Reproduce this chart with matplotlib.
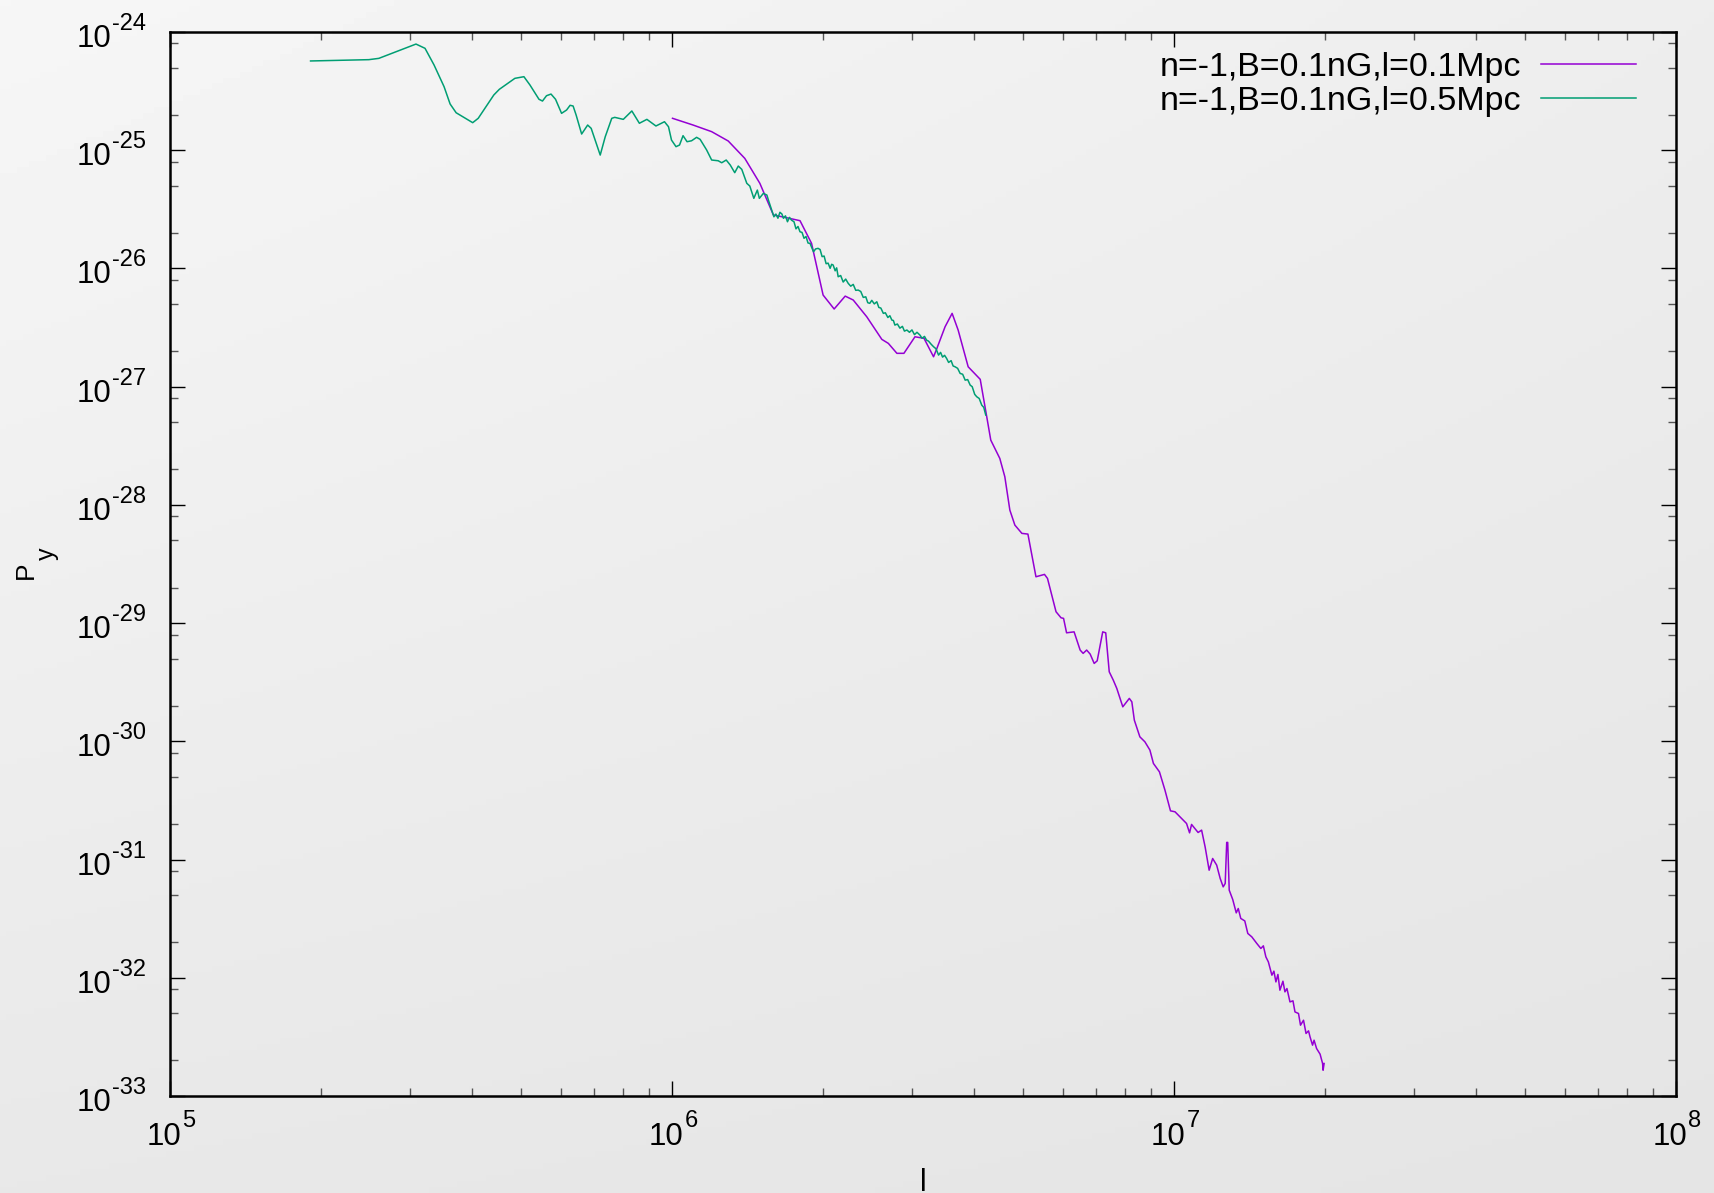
import matplotlib
matplotlib.use("Agg")
import matplotlib.pyplot as plt
import numpy as np
from matplotlib.ticker import FixedLocator, NullFormatter
from matplotlib.transforms import offset_copy

plt.rcParams["font.family"] = ["Liberation Sans", "DejaVu Sans"]

# power spectra, stored as log10(l) and log10(P_y)
# n=-1, B=0.1nG, l=0.1Mpc
log_l_01 = [6.001, 6.042, 6.079, 6.112, 6.145, 6.175, 6.202, 6.225, 6.255, 6.278,
            6.301, 6.323, 6.345, 6.361, 6.388, 6.418, 6.431, 6.448, 6.462, 6.484,
            6.502, 6.521, 6.527, 6.544, 6.558, 6.570, 6.590, 6.614, 6.627, 6.635,
            6.653, 6.663, 6.673, 6.683, 6.697, 6.709, 6.725, 6.742, 6.748, 6.765,
            6.775, 6.780, 6.786, 6.801, 6.813, 6.819, 6.826, 6.833, 6.841, 6.847,
            6.858, 6.864, 6.871, 6.879, 6.886, 6.898, 6.911, 6.916, 6.921, 6.932,
            6.942, 6.952, 6.959, 6.971, 6.982, 6.993, 7.002, 7.025, 7.031, 7.035,
            7.048, 7.055, 7.062, 7.070, 7.077, 7.085, 7.092, 7.098, 7.102, 7.105,
            7.107, 7.110, 7.117, 7.124, 7.128, 7.133, 7.141, 7.147, 7.155, 7.165,
            7.173, 7.178, 7.183, 7.188, 7.195, 7.199, 7.203, 7.207, 7.211, 7.217,
            7.221, 7.225, 7.231, 7.237, 7.241, 7.248, 7.252, 7.258, 7.263, 7.268,
            7.271, 7.276, 7.279, 7.284, 7.291, 7.296, 7.297, 7.299]
log_p_01 = [-24.730, -24.787, -24.843, -24.922, -25.069, -25.280, -25.548, -25.568, -25.596, -25.788,
            -26.225, -26.343, -26.234, -26.267, -26.409, -26.600, -26.634, -26.718, -26.718, -26.578,
            -26.591, -26.747, -26.684, -26.493, -26.380, -26.521, -26.832, -26.938, -27.255, -27.452,
            -27.607, -27.762, -28.044, -28.171, -28.241, -28.247, -28.608, -28.588, -28.622, -28.904,
            -28.955, -28.960, -29.082, -29.074, -29.228, -29.256, -29.228, -29.262, -29.341, -29.319,
            -29.074, -29.082, -29.412, -29.482, -29.552, -29.708, -29.637, -29.666, -29.821, -29.962,
            -30.004, -30.074, -30.187, -30.258, -30.413, -30.588, -30.596, -30.695, -30.774, -30.703,
            -30.771, -30.751, -30.893, -31.090, -30.991, -31.047, -31.160, -31.231, -31.202, -30.855,
            -30.855, -31.259, -31.338, -31.451, -31.414, -31.498, -31.519, -31.625, -31.654, -31.710,
            -31.752, -31.730, -31.823, -31.866, -31.978, -31.944, -32.035, -31.972, -32.105, -32.029,
            -32.119, -32.091, -32.204, -32.195, -32.289, -32.302, -32.401, -32.359, -32.471, -32.449,
            -32.500, -32.570, -32.528, -32.598, -32.646, -32.725, -32.782, -32.725]

# n=-1, B=0.1nG, l=0.5Mpc
log_l_05 = [5.280, 5.396, 5.416, 5.490, 5.508, 5.526, 5.546, 5.558, 5.570, 5.603,
            5.614, 5.645, 5.656, 5.687, 5.705, 5.717, 5.735, 5.742, 5.750, 5.759,
            5.768, 5.780, 5.790, 5.797, 5.803, 5.809, 5.820, 5.832, 5.839, 5.857,
            5.867, 5.880, 5.886, 5.903, 5.920, 5.935, 5.950, 5.968, 5.985, 5.993,
            5.999, 6.008, 6.015, 6.022, 6.030, 6.039, 6.049, 6.056, 6.069, 6.079,
            6.092, 6.099, 6.108, 6.116, 6.125, 6.132, 6.139, 6.149, 6.155, 6.163,
            6.170, 6.174, 6.182, 6.189, 6.192,
            6.203, 6.207, 6.211, 6.215, 6.219, 6.222, 6.226, 6.230, 6.234, 6.238,
            6.243, 6.247, 6.251, 6.255, 6.259, 6.263, 6.267, 6.271, 6.275, 6.278,
            6.282, 6.286, 6.291, 6.295, 6.299, 6.303, 6.307, 6.311, 6.315, 6.318,
            6.321, 6.325, 6.328, 6.331, 6.336, 6.341, 6.346, 6.351, 6.356, 6.361,
            6.366, 6.371, 6.376, 6.381, 6.386, 6.390, 6.394, 6.398, 6.403, 6.408,
            6.412, 6.416, 6.421, 6.425, 6.430, 6.434, 6.438, 6.441, 6.444, 6.449,
            6.454, 6.459, 6.463, 6.468, 6.473, 6.478, 6.483, 6.488, 6.494, 6.498,
            6.503, 6.507, 6.511, 6.516, 6.521, 6.526, 6.531, 6.535, 6.539, 6.543,
            6.547, 6.551, 6.556, 6.560, 6.564, 6.569, 6.574, 6.579, 6.584, 6.589,
            6.594, 6.598, 6.603, 6.607, 6.612, 6.617, 6.621, 6.625]
log_p_05 = [-24.245, -24.234, -24.223, -24.102, -24.138, -24.279, -24.463, -24.609, -24.683, -24.767,
            -24.730, -24.533, -24.485, -24.392, -24.378, -24.448, -24.569, -24.584, -24.539, -24.525,
            -24.569, -24.688, -24.660, -24.620, -24.626, -24.702, -24.863, -24.787, -24.815, -25.041,
            -24.886, -24.730, -24.722, -24.739, -24.668, -24.772, -24.739, -24.795, -24.759, -24.801,
            -24.914, -24.970, -24.956, -24.877, -24.928, -24.920, -24.891, -24.908, -24.998, -25.083,
            -25.089, -25.106, -25.083, -25.125, -25.190, -25.134, -25.162, -25.280, -25.303, -25.407,
            -25.337, -25.407, -25.365, -25.379, -25.421,
            -25.563, -25.540, -25.575, -25.525, -25.540, -25.576, -25.555, -25.605, -25.568, -25.591,
            -25.605, -25.665, -25.645, -25.690, -25.695, -25.745, -25.730, -25.785, -25.788, -25.820,
            -25.859, -25.835, -25.830, -25.840, -25.900, -25.895, -25.960, -25.955, -25.999, -25.965,
            -25.971, -26.020, -25.995, -26.070, -26.060, -26.115, -26.090, -26.126, -26.150, -26.135,
            -26.185, -26.183, -26.195, -26.245, -26.240, -26.290, -26.295, -26.270, -26.300, -26.282,
            -26.330, -26.335, -26.380, -26.375, -26.415, -26.400, -26.437, -26.440, -26.479, -26.470,
            -26.505, -26.490, -26.530, -26.521, -26.540, -26.520, -26.560, -26.540, -26.564, -26.590,
            -26.575, -26.606, -26.615, -26.640, -26.662, -26.680, -26.733, -26.710, -26.750, -26.735,
            -26.761, -26.795, -26.780, -26.825, -26.832, -26.845, -26.888, -26.895, -26.945, -26.940,
            -26.987, -27.000, -27.065, -27.085, -27.100, -27.156, -27.175, -27.240]

labels = ["n=-1,B=0.1nG,l=0.1Mpc", "n=-1,B=0.1nG,l=0.5Mpc"]
colors = ["#9400D3", "#009E73"]
x_decades = [5, 6, 7, 8]
y_decades = list(range(-33, -23))

W, H = 1715, 1193
fig = plt.figure(figsize=(W / 100, H / 100), dpi=100)

# soft grey backdrop, lighter towards the upper left
bg = fig.add_axes([0, 0, 1, 1], zorder=-10)
gy, gx = np.mgrid[0:1:200j, 0:1:300j]
shade = 0.965 - 0.035 * gx - 0.055 * gy + 0.02 * gx * gy
bg.imshow(shade, cmap="gray", vmin=0, vmax=1, aspect="auto", extent=[0, 1, 0, 1], origin="upper")
bg.set_axis_off()

ax = fig.add_axes([170 / W, 1 - 1096 / H, 1506 / W, 1064 / H])
ax.patch.set_alpha(0)

ax.plot(10 ** np.array(log_l_01), 10 ** np.array(log_p_01), color=colors[0], lw=1.1, label=labels[0])
ax.plot(10 ** np.array(log_l_05), 10 ** np.array(log_p_05), color=colors[1], lw=1.1, label=labels[1])

ax.set_xscale("log")
ax.set_yscale("log")
ax.set_xlim(10.0 ** x_decades[0], 10.0 ** x_decades[-1])
ax.set_ylim(10.0 ** y_decades[0], 10.0 ** y_decades[-1])

ax.xaxis.set_major_locator(FixedLocator([10.0 ** e for e in x_decades]))
ax.xaxis.set_minor_locator(FixedLocator([m * 10.0 ** e for e in x_decades[:-1] for m in range(2, 10)]))
ax.yaxis.set_major_locator(FixedLocator([10.0 ** e for e in y_decades]))
ax.yaxis.set_minor_locator(FixedLocator([m * 10.0 ** e for e in y_decades[:-1] for m in (2, 5, 8)]))
for axis in (ax.xaxis, ax.yaxis):
    axis.set_major_formatter(NullFormatter())
    axis.set_minor_formatter(NullFormatter())

for s in ax.spines.values():
    s.set_linewidth(1.8)
ax.tick_params(which="both", direction="in", top=True, right=True)
ax.tick_params(which="major", length=11, width=1.0, color="black")
ax.tick_params(which="minor", length=5.5, width=1.0, color="#555555")

# gnuplot-style "10^n" labels: full-size mantissa, raised exponent
base_fs, exp_fs = 22.5, 17
ytr = ax.get_yaxis_transform()
for e in y_decades:
    v = 10.0 ** e
    ax.text(0, v, "10", fontsize=base_fs, ha="right", va="baseline",
            transform=offset_copy(ytr, fig=fig, x=-59, y=-15, units="dots"))
    ax.text(0, v, str(e), fontsize=exp_fs, ha="left", va="baseline",
            transform=offset_copy(ytr, fig=fig, x=-58, y=2, units="dots"))
xtr = ax.get_xaxis_transform()
for e in x_decades:
    v = 10.0 ** e
    ax.text(v, 0, "10", fontsize=base_fs, ha="right", va="baseline",
            transform=offset_copy(xtr, fig=fig, x=11, y=-49, units="dots"))
    ax.text(v, 0, str(e), fontsize=exp_fs, ha="left", va="baseline",
            transform=offset_copy(xtr, fig=fig, x=12.5, y=-31, units="dots"))

ax.set_xlabel("l", fontsize=22, va="top")
ax.xaxis.set_label_coords(0.5, -0.0677)

# rotated P with a full-size subscript y
fig.text(33 / W, 1 - 579 / H, "P", fontsize=19, rotation=90, rotation_mode="anchor",
         ha="left", va="baseline")
fig.text(54 / W, 1 - 560 / H, "y", fontsize=18, rotation=90, rotation_mode="anchor",
         ha="left", va="baseline")

ax.legend(loc="upper right", bbox_to_anchor=(0.9734, 0.981), frameon=False, markerfirst=False,
          fontsize=24.5, handlelength=2.78, handletextpad=0.6, labelspacing=0.08,
          borderpad=0, borderaxespad=0)

fig.savefig("out.png", dpi=100)
